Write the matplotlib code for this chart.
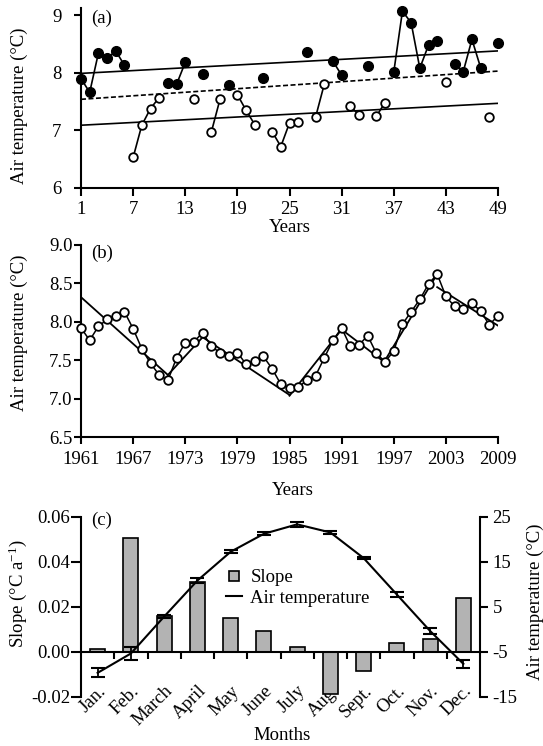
import matplotlib
matplotlib.use('Agg')
import matplotlib.pyplot as plt
import numpy as np
from matplotlib.lines import Line2D

plt.rcParams['font.family'] = ['Liberation Serif', 'DejaVu Serif']
plt.rcParams['mathtext.fontset'] = 'custom'
plt.rcParams['mathtext.rm'] = 'Liberation Serif'
plt.rcParams['mathtext.it'] = 'Liberation Serif:italic'
plt.rcParams['axes.unicode_minus'] = False
plt.rcParams['font.size'] = 13

# ---------------- data ----------------
# panel (a): annual air temperature, years 1..49, warm (filled) / cold (open)
years_a = list(range(1, 50))
temp_a = [7.90, 7.66, 8.34, 8.25, 8.38, 8.13, 6.53, 7.09, 7.38, 7.57,
          7.83, 7.80, 8.18, 7.54, 7.98, 6.97, 7.54, 7.78, 7.62, 7.35,
          7.10, 7.91, 6.98, 6.72, 7.13, 7.14, 8.36, 7.23, 7.80, 8.20,
          7.96, 7.42, 7.27, 8.12, 7.25, 7.48, 8.01, 9.07, 8.87, 8.08,
          8.48, 8.55, 7.84, 8.16, 8.02, 8.58, 8.09, 7.23, 8.51]
warm_a = [1, 1, 1, 1, 1, 1, 0, 0, 0, 0,
          1, 1, 1, 0, 1, 0, 0, 1, 0, 0,
          0, 1, 0, 0, 0, 0, 1, 0, 0, 1,
          1, 0, 0, 1, 0, 0, 1, 1, 1, 1,
          1, 1, 0, 1, 1, 1, 1, 0, 1]
trend_a_x = [1, 49]
trend_upper = [7.99, 8.38]
trend_mean = [7.54, 8.03]
trend_lower = [7.09, 7.47]

# panel (b): annual air temperature 1961-2009 with piecewise trends
years_b = list(range(1961, 2010))
temp_b = [7.92, 7.76, 7.94, 8.03, 8.08, 8.13, 7.91, 7.65, 7.46, 7.31,
          7.24, 7.53, 7.73, 7.74, 7.86, 7.68, 7.60, 7.56, 7.60, 7.45,
          7.49, 7.55, 7.39, 7.19, 7.14, 7.15, 7.24, 7.30, 7.53, 7.76,
          7.92, 7.68, 7.70, 7.82, 7.59, 7.48, 7.62, 7.97, 8.13, 8.29,
          8.49, 8.62, 8.33, 8.20, 8.16, 8.24, 8.14, 7.96, 8.08]
seg_start = [1961, 1971, 1975, 1985, 1991, 1996, 2002]
seg_end = [1971, 1975, 1985, 1991, 1996, 2002, 2009]
seg_v0 = [8.32, 7.31, 7.80, 7.04, 7.90, 7.50, 8.45]
seg_v1 = [7.31, 7.80, 7.05, 7.90, 7.47, 8.62, 7.95]

# panel (c): monthly slope and air temperature
months = ['Jan.', 'Feb.', 'March', 'April', 'May', 'June', 'July',
          'Aug.', 'Sept.', 'Oct.', 'Nov.', 'Dec.']
slope = [0.001, 0.0505, 0.016, 0.031, 0.015, 0.009, 0.002,
         -0.019, -0.0085, 0.004, 0.0055, 0.024]
month_temp = [-9.7, -5.4, 2.8, 10.8, 17.2, 21.2, 23.3, 21.5, 15.8, 7.7, -0.4, -7.7]
month_err = [1.0, 1.55, 0.4, 0.55, 0.3, 0.3, 0.5, 0.4, 0.3, 0.65, 0.75, 0.9]

# ---------------- figure ----------------
W, H = 543, 746
fig = plt.figure(figsize=(W / 100, H / 100), dpi=100)


def ax_px(x0, y0, x1, y1):
    return fig.add_axes([x0 / W, 1 - y1 / H, (x1 - x0) / W, (y1 - y0) / H])


def ftext(x, y, s, **kw):
    return fig.text(x / W, 1 - y / H, s, **kw)


SLW = 1.5

# ---- panel (a) ----
ax = ax_px(81, 8.3, 498, 188)
ax.set_xlim(1, 49)
ax.set_ylim(6, 9.12)
for s in ['top', 'right']:
    ax.spines[s].set_visible(False)
for s in ['left', 'bottom']:
    ax.spines[s].set_linewidth(SLW)
ax.set_xticks(range(1, 50, 6))
ax.set_yticks([6, 7, 8, 9])
ax.tick_params(axis='y', length=5, width=SLW, pad=9, labelsize=13.5)
ax.tick_params(axis='x', length=6, width=SLW, pad=3, labelsize=13.5)

ax.plot(trend_a_x, trend_upper, color='k', lw=1.2, zorder=2)
ax.plot(trend_a_x, trend_lower, color='k', lw=1.2, zorder=2)
ax.plot(trend_a_x, trend_mean, color='k', lw=1.2, ls=(0, (3, 1.5)), zorder=2)

# connect consecutive years of same class
i = 0
n = len(years_a)
while i < n:
    j = i
    while j + 1 < n and warm_a[j + 1] == warm_a[i]:
        j += 1
    xs = years_a[i:j + 1]
    ys = temp_a[i:j + 1]
    if warm_a[i]:
        ax.plot(xs, ys, color='k', lw=1.2, marker='o', ms=7.0, mfc='k', mec='k',
                zorder=4, clip_on=False)
    else:
        ax.plot(xs, ys, color='k', lw=1.2, marker='o', ms=6.2, mfc='white', mec='k',
                mew=1.3, zorder=4, clip_on=False)
    i = j + 1

ftext(91, 18, '(a)', ha='left', va='center', fontsize=13.5)
ftext(289.5, 227, 'Years', ha='center', va='center', fontsize=13.5)
ftext(19, 106, 'Air temperature (°C)', ha='center', va='center', rotation=90, fontsize=13.5)

# ---- panel (b) ----
bx = ax_px(81, 244.8, 498, 437.3)
bx.set_xlim(1961, 2009)
bx.set_ylim(6.5, 9.0)
for s in ['top', 'right']:
    bx.spines[s].set_visible(False)
for s in ['left', 'bottom']:
    bx.spines[s].set_linewidth(SLW)
bx.set_xticks(range(1961, 2010, 6))
bx.set_yticks([6.5, 7.0, 7.5, 8.0, 8.5, 9.0])
bx.set_yticklabels(['%.1f' % v for v in [6.5, 7.0, 7.5, 8.0, 8.5, 9.0]])
bx.tick_params(axis='y', length=5, width=SLW, pad=1, labelsize=13.5)
bx.tick_params(axis='x', length=5, width=SLW, pad=5, labelsize=13.5)

for a0, a1, v0, v1 in zip(seg_start, seg_end, seg_v0, seg_v1):
    bx.plot([a0, a1], [v0, v1], color='k', lw=1.3, zorder=2)
bx.plot(years_b, temp_b, color='k', lw=1.1, marker='o', ms=6.2, mfc='white',
        mec='k', mew=1.3, zorder=4, clip_on=False)

ftext(91, 253, '(b)', ha='left', va='center', fontsize=13.5)
ftext(293, 490.5, 'Years', ha='center', va='center', fontsize=13.5)
ftext(19, 333, 'Air temperature (°C)', ha='center', va='center', rotation=90, fontsize=13.5)

# ---- panel (c) ----
cx = ax_px(81, 516.7, 480, 696.7)
xpos = np.arange(len(months))
cx.set_xlim(-0.5, 11.5)
cx.set_ylim(-0.02, 0.06)
cx.spines['top'].set_visible(False)
cx.spines['right'].set_visible(False)
cx.spines['left'].set_linewidth(SLW)
cx.spines['bottom'].set_linewidth(SLW)
cx.spines['bottom'].set_position(('data', 0))
cx.set_yticks([-0.02, 0.0, 0.02, 0.04, 0.06])
cx.set_yticklabels(['%.2f' % v for v in [-0.02, 0.0, 0.02, 0.04, 0.06]])
cx.tick_params(axis='y', length=7, width=SLW, pad=1, labelsize=13.5)
cx.set_xticks(xpos)
cx.set_xticklabels(months)
cx.set_xticks(xpos[:-1] + 0.5, minor=True)
cx.tick_params(axis='x', which='major', length=0, pad=22, labelsize=13.5)
cx.tick_params(axis='x', which='minor', length=5, width=SLW)
for lab in cx.get_xticklabels():
    lab.set_rotation(45)
    lab.set_ha('right')
    lab.set_rotation_mode('anchor')

cx.bar(xpos, slope, width=0.45, color='#b3b3b3', edgecolor='k', linewidth=1.2, zorder=2)

c2 = cx.twinx()
c2.set_ylim(-15, 25)
c2.set_xlim(-0.5, 11.5)
for s in ['top', 'left', 'bottom']:
    c2.spines[s].set_visible(False)
c2.spines['right'].set_linewidth(SLW)
c2.set_yticks([-15, -5, 5, 15, 25])
c2.tick_params(axis='y', length=6, width=SLW, pad=3, labelsize=13.5)
c2.plot(xpos, month_temp, color='k', lw=1.5, zorder=3)
c2.errorbar(xpos, month_temp, yerr=month_err, fmt='none', ecolor='k',
            elinewidth=1.3, capsize=4.8, capthick=1.5, zorder=4)

handles = [Line2D([], [], marker='s', ls='none', mfc='#b3b3b3', mec='k', mew=1.2, ms=7),
           Line2D([], [], color='k', lw=1.5)]
c2.legend(handles, ['Slope', 'Air temperature'], loc='upper left',
          bbox_to_anchor=((226 - 81) / 399, (696.7 - 569) / 180), frameon=False,
          handlelength=0.85, handletextpad=0.45, labelspacing=0.2, borderpad=0,
          borderaxespad=0, fontsize=13.5)

ftext(91, 520, '(c)', ha='left', va='center', fontsize=13.5)
ftext(282, 735, 'Months', ha='center', va='center', fontsize=13.5)
ftext(18, 594, 'Slope (°C a$^{-1}$)', ha='center', va='center', rotation=90, fontsize=13.5)
ftext(535, 602, 'Air temperature (°C)', ha='center', va='center', rotation=90, fontsize=13.5)

fig.savefig('out.png', dpi=100)
